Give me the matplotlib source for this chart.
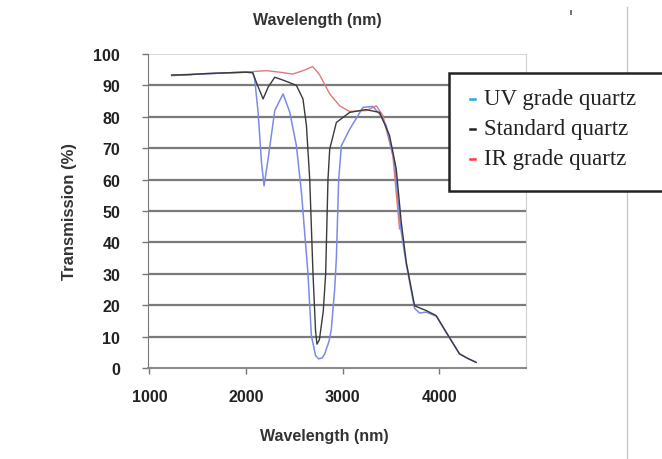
import matplotlib.pyplot as plt
from matplotlib.patches import Rectangle
from matplotlib.lines import Line2D

# UV grade quartz
uv_wl = [1230, 1400, 1600, 1800, 2000, 2070, 2090, 2125, 2160, 2187, 2229, 2298, 2384,
         2453, 2522, 2574, 2642, 2677, 2720, 2752, 2790, 2815, 2860, 2884, 2918, 2936,
         2960, 2988, 3073, 3211, 3314, 3380, 3453, 3539, 3600, 3660, 3746, 3797, 3866,
         3970, 4073, 4211, 4300, 4383]
uv_t = [93.2, 93.5, 93.7, 94.0, 94.2, 94.2, 92.0, 81.5, 65.6, 58.0, 66.6, 82.0, 87.3,
        81.5, 70.8, 56.0, 30.0, 10.3, 4.0, 2.9, 3.2, 4.5, 8.5, 12.4, 25.0, 35.0,
        60.0, 70.8, 76.0, 83.0, 83.3, 81.0, 77.2, 65.5, 45.0, 33.0, 19.0, 17.5, 17.8,
        16.5, 11.4, 4.5, 3.0, 1.8]

# Standard quartz
std_wl = [1230, 1400, 1600, 1800, 2000, 2070, 2120, 2177, 2230, 2298, 2400, 2522, 2590,
          2626, 2660, 2694, 2720, 2735, 2760, 2800, 2825, 2849, 2867, 2936, 3073, 3240,
          3384, 3487, 3556, 3608, 3660, 3746, 3866, 3970, 4073, 4211, 4300, 4383]
std_t = [93.3, 93.4, 93.8, 94.0, 94.2, 94.0, 90.0, 85.7, 89.5, 92.6, 91.5, 90.0, 85.7,
         77.2, 60.0, 30.0, 12.0, 7.6, 9.0, 18.0, 30.0, 60.0, 69.7, 78.2, 81.4, 82.3,
         81.4, 74.0, 63.4, 46.4, 33.7, 19.8, 18.3, 16.7, 11.4, 4.5, 3.0, 1.8]

# IR grade quartz
ir_wl = [1230, 1400, 1600, 1800, 2000, 2070, 2212, 2350, 2485, 2600, 2690, 2760, 2867,
         2970, 3073, 3246, 3350, 3418, 3521, 3590]
ir_t = [93.1, 93.4, 93.7, 94.0, 94.3, 94.4, 94.7, 94.2, 93.6, 94.8, 96.0, 93.5, 87.3,
        83.5, 81.7, 82.0, 83.5, 80.4, 67.6, 44.3]

labels = ['UV grade quartz', 'Standard quartz', 'IR grade quartz']
line_colors = ['#7b8be6', '#3a3a3a', '#e07a7a']
key_colors = ['#2aa7e0', '#222222', '#ff3b3b']

fig = plt.figure(figsize=(6.62, 4.60), dpi=100)
ax = fig.add_axes([148 / 662, 1 - 369 / 460, (526 - 148) / 662, (369 - 55) / 460])

ax.plot(uv_wl, uv_t, color=line_colors[0], lw=1.1, zorder=3)
ax.plot(std_wl, std_t, color=line_colors[1], lw=1.0, zorder=4)
ax.plot(ir_wl, ir_t, color=line_colors[2], lw=1.0, zorder=2)

ax.set_xlim(985, 4900)
ax.set_ylim(0, 100)
ax.set_xticks([1000, 2000, 3000, 4000])
ax.set_yticks(range(0, 101, 10))
for y in range(10, 100, 10):
    ax.axhline(y, color='#7a7a7a', lw=1.6, zorder=1)
ax.axhline(100, color='#cfcfcf', lw=1.2, zorder=1)

ax.spines['top'].set_visible(False)
ax.spines['right'].set_color('#d0d0d0')
ax.spines['left'].set_color('#777777')
ax.spines['bottom'].set_color('#8a8a8a')
ax.spines['bottom'].set_linewidth(1.5)
ax.tick_params(direction='out', length=4, color='#777777', width=1)
for lab in ax.get_xticklabels() + ax.get_yticklabels():
    lab.set_fontfamily('Liberation Sans')
    lab.set_fontweight('bold')
    lab.set_fontsize(11.5)
    lab.set_color('#222222')
ax.tick_params(axis='x', pad=11)
ax.tick_params(axis='y', pad=16)

ax.set_ylabel('Transmission (%)', fontfamily='Liberation Sans', fontweight='bold',
              fontsize=12, color='#333333')
ax.yaxis.set_label_coords(-0.188, 0.5)
fig.text(324 / 662, 1 - 437 / 460, 'Wavelength (nm)', ha='center', va='center',
         fontfamily='Liberation Sans', fontweight='bold', fontsize=11.5, color='#333333')
fig.text(317 / 662, 1 - 20 / 460, 'Wavelength (nm)', ha='center', va='center',
         fontfamily='Liberation Sans', fontweight='bold', fontsize=11.5, color='#333333')

# page edge line and small mark
fig.add_artist(Line2D([627 / 662, 627 / 662], [0, 1 - 8 / 460], color='#c8c8c8', lw=1.0))
fig.add_artist(Rectangle((570 / 662, 1 - 16 / 460), 2 / 662, 5 / 460, color='#777777', lw=0))

# legend box
fig.add_artist(Rectangle((449 / 662, 1 - 192 / 460), 260 / 662, (192 - 74) / 460,
                         facecolor='white', edgecolor='#222222', lw=1.8, zorder=10))
ys = [100, 130, 160]
for lab, c, y in zip(labels, key_colors, ys):
    fig.add_artist(Line2D([470 / 662, 475 / 662], [1 - y / 460, 1 - y / 460],
                          color=c, lw=1.8, zorder=11))
    fig.text(484 / 662, 1 - y / 460, lab, ha='left', va='center',
             fontfamily='Liberation Serif', fontsize=16.5, color='#222222', zorder=11)

fig.savefig('out.png', dpi=100)
